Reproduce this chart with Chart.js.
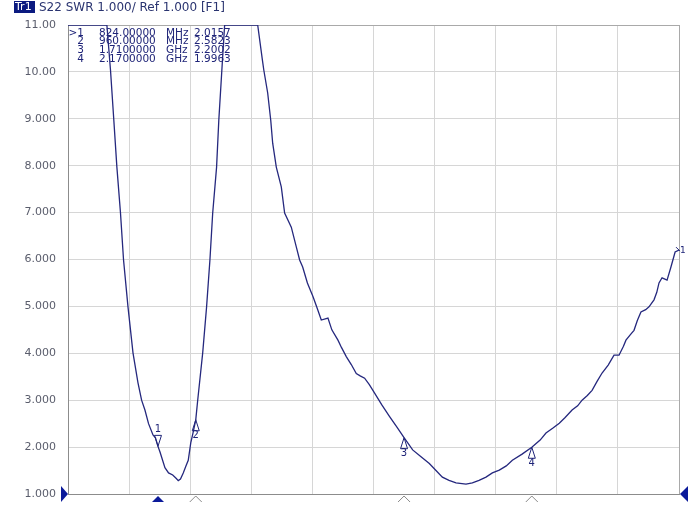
<!DOCTYPE html>
<html>
<head>
<meta charset="utf-8">
<script src="https://cdn.jsdelivr.net/npm/chart.js@4/dist/chart.umd.min.js"></script>
<style>
  html, body { margin: 0; padding: 0; background: #ffffff; }
  canvas { display: block; }
</style>
</head>
<body>
<canvas id="swrChart" width="694" height="506"></canvas>
<script>
// S22 SWR trace, frequency in MHz (values above 11 are shown pinned to the top)
const freqMHz = [500, 640, 653, 665, 676, 689, 700, 716, 734, 752, 765, 777, 790, 806, 815, 824,
  831, 849, 862, 877, 890, 897, 905, 915, 925, 933, 942, 950, 960, 967, 985, 999, 1011, 1021,
  1035, 1043, 1054, 1064, 1183, 1200, 1205, 1219, 1230, 1237, 1250, 1268, 1280, 1304, 1322,
  1334, 1345, 1362, 1382, 1396, 1412, 1436, 1450, 1472, 1485, 1502, 1520, 1538, 1552, 1568,
  1585, 1604, 1630, 1658, 1685, 1710, 1741, 1770, 1801, 1825, 1848, 1872, 1897, 1933, 1956,
  1980, 2005, 2028, 2053, 2078, 2100, 2135, 2170, 2200, 2221, 2245, 2269, 2290, 2315, 2335,
  2351, 2370, 2387, 2405, 2423, 2445, 2466, 2484, 2500, 2509, 2525, 2538, 2550, 2563, 2580,
  2592, 2610, 2620, 2628, 2639, 2657, 2671, 2686, 2700];
const swr = [11, 11, 10.04, 8.97, 7.97, 6.99, 5.99, 4.99, 4.01, 3.37, 3.00, 2.79, 2.50, 2.26, 2.20, 2.016,
  1.90, 1.56, 1.45, 1.405, 1.33, 1.285, 1.32, 1.45, 1.60, 1.72, 2.09, 2.30, 2.582, 3.00, 4.01, 4.99, 5.99, 6.99,
  7.97, 8.97, 10.04, 11, 11, 10.25, 10.04, 9.55, 8.97, 8.48, 7.97, 7.55, 6.99, 6.69, 6.27,
  5.99, 5.84, 5.50, 5.21, 4.98, 4.71, 4.75, 4.50, 4.28, 4.12, 3.93, 3.76, 3.57, 3.52, 3.47,
  3.33, 3.15, 2.90, 2.65, 2.42, 2.20, 1.94, 1.80, 1.65, 1.50, 1.36, 1.29, 1.235, 1.21, 1.235,
  1.29, 1.36, 1.45, 1.51, 1.60, 1.72, 1.85, 1.996, 2.15, 2.30, 2.40, 2.51, 2.63, 2.79, 2.88,
  3.00, 3.10, 3.21, 3.40, 3.58, 3.75, 3.96, 3.96, 4.15, 4.28, 4.40, 4.49, 4.70, 4.88, 4.93,
  4.99, 5.14, 5.30, 5.50, 5.61, 5.56, 5.84, 6.16, 6.20];

const yTickLabels = ["1.000", "2.000", "3.000", "4.000", "5.000", "6.000",
  "7.000", "8.000", "9.000", "10.00", "11.00"];

const markerNames = [">1", "2", "3", "4"];
const markerFreq = [824, 960, 1710, 2170];
const markerFreqText = ["824.00000", "960.00000", "1.7100000", "2.1700000"];
const markerUnit = ["MHz", "MHz", "GHz", "GHz"];
const markerSwr = [2.0157, 2.5823, 2.2002, 1.9963];

const NAVY = "#1f2478";

const vnaOverlay = {
  id: "vnaOverlay",
  afterDraw(chart) {
    const ctx = chart.ctx;
    const xs = chart.scales.x;
    const ys = chart.scales.y;
    const area = chart.chartArea;
    ctx.save();

    // header
    ctx.fillStyle = "#0b1a80";
    ctx.fillRect(14, 1, 21, 12);
    ctx.font = "11px 'DejaVu Sans'";
    ctx.textBaseline = "middle";
    ctx.textAlign = "left";
    ctx.fillStyle = "#ffffff";
    ctx.fillText("Tr1", 15, 7.5);
    ctx.fillStyle = "#2a3470";
    ctx.font = "12px 'DejaVu Sans'";
    ctx.fillText("S22 SWR 1.000/ Ref 1.000 [F1]", 39, 7.5);

    // marker table
    ctx.fillStyle = NAVY;
    ctx.font = "10.5px 'DejaVu Sans'";
    for (let i = 0; i < markerNames.length; i++) {
      const ty = 33 + i * 8.7;
      ctx.textAlign = "right";
      ctx.fillText(markerNames[i], 84, ty);
      ctx.textAlign = "left";
      ctx.fillText(markerFreqText[i], 99, ty);
      ctx.fillText(markerUnit[i], 166, ty);
      ctx.fillText(markerSwr[i].toFixed(4), 194, ty);
    }

    // markers on the trace
    ctx.strokeStyle = NAVY;
    ctx.lineWidth = 1;
    ctx.font = "10px 'DejaVu Sans'";
    ctx.textAlign = "center";
    for (let i = 0; i < markerFreq.length; i++) {
      const px = xs.getPixelForValue(markerFreq[i]);
      const py = ys.getPixelForValue(markerSwr[i]);
      const label = String(i + 1);
      ctx.beginPath();
      if (i === 0) {
        ctx.moveTo(px, py);
        ctx.lineTo(px - 3.5, py - 11);
        ctx.lineTo(px + 3.5, py - 11);
        ctx.closePath();
        ctx.stroke();
        ctx.textBaseline = "bottom";
        ctx.fillText(label, px, py - 12);
      } else {
        ctx.moveTo(px, py);
        ctx.lineTo(px - 3.5, py + 11);
        ctx.lineTo(px + 3.5, py + 11);
        ctx.closePath();
        ctx.stroke();
        ctx.textBaseline = "top";
        ctx.fillText(label, px, py + 11);
      }

      // stimulus markers under the axis
      const by = area.bottom;
      ctx.beginPath();
      if (i === 0) {
        ctx.fillStyle = "#0b1a9a";
        ctx.moveTo(px - 6, by + 8);
        ctx.lineTo(px, by + 2);
        ctx.lineTo(px + 6, by + 8);
        ctx.closePath();
        ctx.fill();
        ctx.fillStyle = NAVY;
      } else {
        ctx.strokeStyle = "#8a8a8a";
        ctx.moveTo(px - 6, by + 8);
        ctx.lineTo(px, by + 2);
        ctx.lineTo(px + 6, by + 8);
        ctx.stroke();
        ctx.strokeStyle = NAVY;
      }
    }

    // reference level arrows
    const ry = ys.getPixelForValue(1);
    ctx.fillStyle = "#0b1a9a";
    ctx.beginPath();
    ctx.moveTo(area.left - 7, ry - 8);
    ctx.lineTo(area.left, ry);
    ctx.lineTo(area.left - 7, ry + 8);
    ctx.closePath();
    ctx.fill();
    ctx.beginPath();
    ctx.moveTo(area.right + 9, ry - 8);
    ctx.lineTo(area.right + 1, ry);
    ctx.lineTo(area.right + 9, ry + 8);
    ctx.closePath();
    ctx.fill();

    // trace end label
    const ex = xs.getPixelForValue(freqMHz[freqMHz.length - 1]);
    const ey = ys.getPixelForValue(swr[swr.length - 1]);
    ctx.fillStyle = NAVY;
    ctx.font = "9px 'DejaVu Sans'";
    ctx.textAlign = "left";
    ctx.textBaseline = "middle";
    ctx.fillText("1", ex + 1, ey + 1);
    ctx.beginPath();
    ctx.moveTo(ex - 3, ey - 3);
    ctx.lineTo(ex + 1, ey + 1);
    ctx.stroke();

    ctx.restore();
  }
};

const edgeGrid = function (max) {
  return function (c) {
    if (c.tick && c.tick.value === max) return "#a9a9a9";
    return "#d6d6d6";
  };
};

new Chart(document.getElementById("swrChart"), {
  type: "line",
  data: {
    datasets: [{
      label: "S22 SWR",
      data: freqMHz.map((f, i) => ({ x: f, y: swr[i] })),
      borderColor: "#25287e",
      borderWidth: 1.3,
      pointRadius: 0,
      tension: 0,
      fill: false
    }]
  },
  options: {
    responsive: false,
    devicePixelRatio: 1,
    animation: false,
    events: [],
    layout: { padding: { top: 25, right: 15, left: 0, bottom: 0 } },
    plugins: {
      legend: { display: false },
      tooltip: { enabled: false }
    },
    scales: {
      x: {
        type: "linear",
        min: 500,
        max: 2700,
        ticks: { stepSize: 220, display: false, padding: 0 },
        grid: { color: edgeGrid(2700), drawTicks: false, lineWidth: 1 },
        border: { color: "#8c8c8c" },
        afterFit(s) { s.height = 12; }
      },
      y: {
        min: 1,
        max: 11,
        ticks: {
          stepSize: 1,
          padding: 0,
          color: "#5a5d6c",
          font: { family: "'DejaVu Sans'", size: 11 },
          callback: (v) => yTickLabels[v - 1]
        },
        grid: {
          color: edgeGrid(11),
          drawTicks: true,
          tickLength: 12,
          tickColor: "rgba(0,0,0,0)",
          lineWidth: 1
        },
        border: { color: "#8c8c8c" },
        afterFit(s) { s.width = 68; }
      }
    }
  },
  plugins: [vnaOverlay]
});
</script>
</body>
</html>
